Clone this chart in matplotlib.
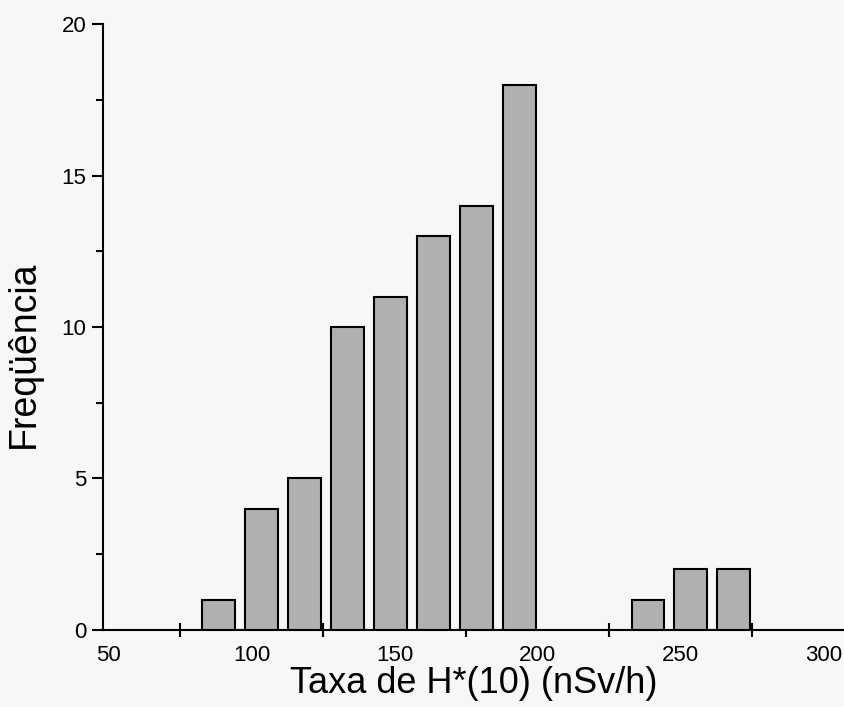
import matplotlib
matplotlib.use('Agg')
import matplotlib.pyplot as plt
from matplotlib.ticker import MultipleLocator, FixedLocator

# dose-rate classes (bin centres, nSv/h) and number of measurements in each
centros = [88.5, 103.5, 118.5, 133.5, 148.5, 163.5, 178.5, 193.5, 238.5, 253.5, 268.5]
frequencias = [1, 4, 5, 10, 11, 13, 14, 18, 1, 2, 2]

plt.rcParams['font.family'] = ['Liberation Sans', 'DejaVu Sans']

fig = plt.figure(figsize=(8.44, 7.07), dpi=100)
fig.patch.set_facecolor('#f7f7f7')
ax = fig.add_axes([0.122, 0.109, 0.878, 0.857])
ax.set_facecolor('none')

ax.bar(centros, frequencias, width=11.5, color='#b0b0b0',
       edgecolor='black', linewidth=1.5, zorder=3)

ax.set_xlim(48, 307)
ax.set_ylim(0, 20)

ax.spines['top'].set_visible(False)
ax.spines['right'].set_visible(False)
ax.spines['left'].set_linewidth(1.5)
ax.spines['bottom'].set_linewidth(1.5)

ax.yaxis.set_major_locator(MultipleLocator(5))
ax.yaxis.set_minor_locator(MultipleLocator(2.5))
ax.tick_params(axis='y', which='major', direction='out', length=8, width=1.5,
               labelsize=16, pad=4)
ax.tick_params(axis='y', which='minor', direction='out', length=5, width=1.5)

ax.xaxis.set_major_locator(FixedLocator([50, 100, 150, 200, 250, 300]))
ax.xaxis.set_minor_locator(FixedLocator([75, 125, 175, 225, 275]))
ax.tick_params(axis='x', which='major', length=0, labelsize=16, pad=11)
ax.tick_params(axis='x', which='minor', direction='inout', length=10, width=1.5)

ax.set_xlabel('Taxa de H*(10) (nSv/h)', fontsize=26, labelpad=0)
ax.set_ylabel('Freqüência', fontsize=27)
ax.yaxis.set_label_coords(-0.083, 0.455)

fig.savefig('out.png', dpi=100, facecolor=fig.get_facecolor())
